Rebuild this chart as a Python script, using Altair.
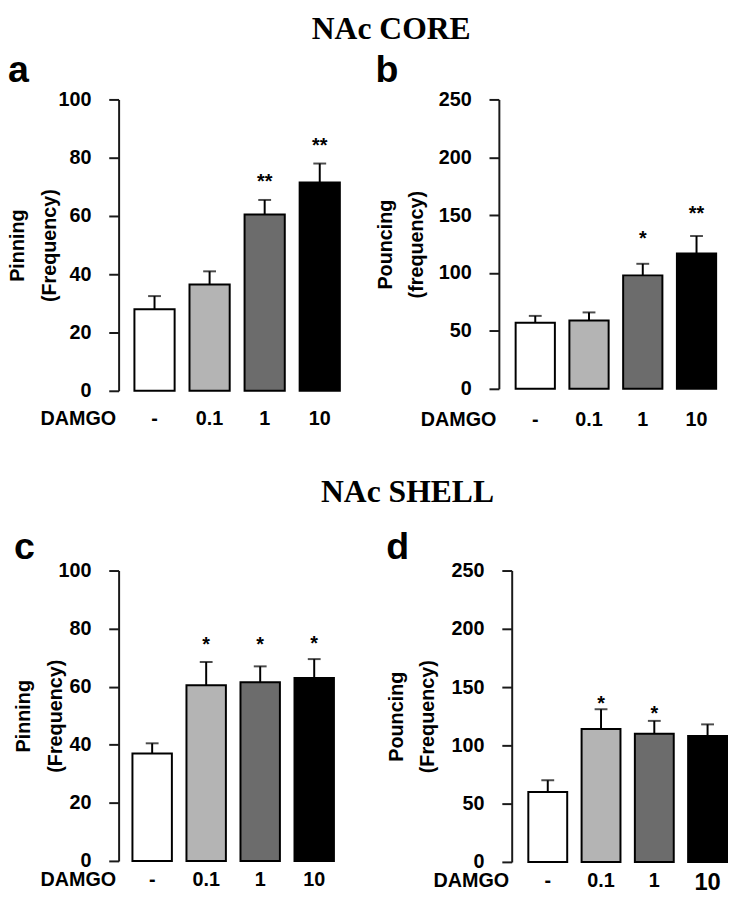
import altair as alt
import pandas as pd

doses = ["-", "0.1", "1", "10"]
fills = ["#ffffff", "#b4b4b4", "#6c6c6c", "#000000"]

# NAc CORE
core_pin_mean = [28, 36.5, 60.5, 71.5]
core_pin_sem = [4.5, 4.5, 5, 6.5]
core_pin_star = ["", "", "**", "**"]
core_pin_star_y = [None, None, 73.5, 85.6]

core_pou_mean = [57, 59, 98, 117]
core_pou_sem = [6, 7, 10, 15]
core_pou_star = ["", "", "*", "**"]
core_pou_star_y = [None, None, 134, 155.5]

# NAc SHELL
shell_pin_mean = [37, 60.5, 61.5, 63]
shell_pin_sem = [3.5, 8, 5.5, 6.5]
shell_pin_star = ["", "*", "*", "*"]
shell_pin_star_y = [None, 76, 76, 76.5]

shell_pou_mean = [60, 114, 110, 108]
shell_pou_sem = [10, 17, 11, 10]
shell_pou_star = ["", "*", "*", ""]
shell_pou_star_y = [None, 140, 131.5, None]

SANS = "Liberation Sans"
SERIF = "Liberation Serif"
AXC = "#1a1a1a"


def panel(letter, means, sems, stars, star_y, ymax, ystep, ytitle,
          width, height, pad_outer, align, title_x, label_pad, title_offset,
          big_last=False):
    df = pd.DataFrame({
        "dose": doses,
        "mean": means,
        "top": [m + s for m, s in zip(means, sems)],
        "star": stars,
        "star_y": star_y,
    })
    lfs = 20
    if big_last:
        lfs = {"condition": {"test": "datum.label == '10'", "value": 24}, "value": 20}
    xenc = alt.X(
        "dose:N", sort=doses,
        scale=alt.Scale(domain=doses, paddingInner=0.27, paddingOuter=pad_outer, align=align),
        axis=alt.Axis(
            title="DAMGO", domain=False, ticks=False, tickSize=0, labelAngle=0,
            labelFont=SANS, labelFontSize=lfs, labelFontWeight="bold", labelColor="black",
            labelPadding=label_pad,
            titleFont=SANS, titleFontSize=20, titleFontWeight="bold", titleColor="black",
            titleX=-3, titleY=label_pad, titleAlign="right", titleBaseline="top",
        ),
    )
    yscale = alt.Scale(domain=[0, ymax], nice=False, zero=True)
    yaxis = alt.Axis(
        values=list(range(0, ymax + 1, ystep)), grid=False,
        title=ytitle, titleFont=SANS, titleFontSize=20, titleFontWeight="bold", titleColor="black",
        titleAngle=-90, titleX=title_x, titleY=height / 2, titleBaseline="alphabetic",
        titleAlign="center", titleLineHeight=32,
        labelFont=SANS, labelFontSize=20, labelFontWeight="bold", labelColor="black",
        labelPadding=18, tickSize=10, tickWidth=2, tickColor=AXC,
        domainWidth=2, domainColor=AXC,
    )
    bars = alt.Chart(df).mark_bar(stroke="black", strokeWidth=2).encode(
        x=xenc,
        y=alt.Y("mean:Q", scale=yscale, axis=yaxis),
        fill=alt.Fill("dose:N", scale=alt.Scale(domain=doses, range=fills), legend=None),
    )
    err = alt.Chart(df).mark_rule(color="black", strokeWidth=2).encode(
        x=alt.X("dose:N", sort=doses), y="mean:Q", y2="top:Q"
    )
    cap = alt.Chart(df).mark_tick(color="black", thickness=2, size=13).encode(
        x=alt.X("dose:N", sort=doses), y="top:Q"
    )
    txt = alt.Chart(df).mark_text(
        font=SANS, fontSize=20, fontWeight="bold", color="black", baseline="alphabetic", dy=11
    ).encode(x=alt.X("dose:N", sort=doses), y="star_y:Q", text="star:N")
    return alt.layer(bars, err, cap, txt).properties(
        width=width, height=height,
        title=alt.TitleParams(
            text=letter, anchor="start", frame="bounds", font=SANS, fontSize=38,
            fontWeight="bold", color="black", baseline="top", offset=title_offset,
        ),
    )


pa = panel("a", core_pin_mean, core_pin_sem, core_pin_star, core_pin_star_y, 100, 20,
           ["Pinning", "(Frequency)"], 240, 295, 0.287, 0.5, -96, 18, 0)
pb = panel("b", core_pou_mean, core_pou_sem, core_pou_star, core_pou_star_y, 250, 50,
           ["Pouncing", "(frequency)"], 220, 293, 0.156, 1.0, -109, 21, 0)
pc = panel("c", shell_pin_mean, shell_pin_sem, shell_pin_star, shell_pin_star_y, 100, 20,
           ["Pinning", "(Frequency)"], 232, 294, 0.256, 0.5, -90, 9, -6)
pd_ = panel("d", shell_pou_mean, shell_pou_sem, shell_pou_star, shell_pou_star_y, 250, 50,
            ["Pouncing", "(Frequency)"], 218, 295, 0.156, 1.0, -111, 9, -6, big_last=True)

row1 = alt.hconcat(pa, pb, spacing=20, title=alt.TitleParams(
    text="NAc CORE", font=SERIF, fontSize=32, fontWeight="bold", color="black",
    anchor="middle", dx=29, baseline="top", offset=6))
row2 = alt.hconcat(pc, pd_, spacing=39, title=alt.TitleParams(
    text="NAc SHELL", font=SERIF, fontSize=32, fontWeight="bold", color="black",
    anchor="middle", dx=37, baseline="top", offset=20))

chart = alt.vconcat(row1, row2, spacing=48).properties(padding=0, background="white").configure_view(
    stroke=None
).configure_concat(spacing=20)

chart.save("out.html", embed_options={"renderer": "svg", "actions": False})
